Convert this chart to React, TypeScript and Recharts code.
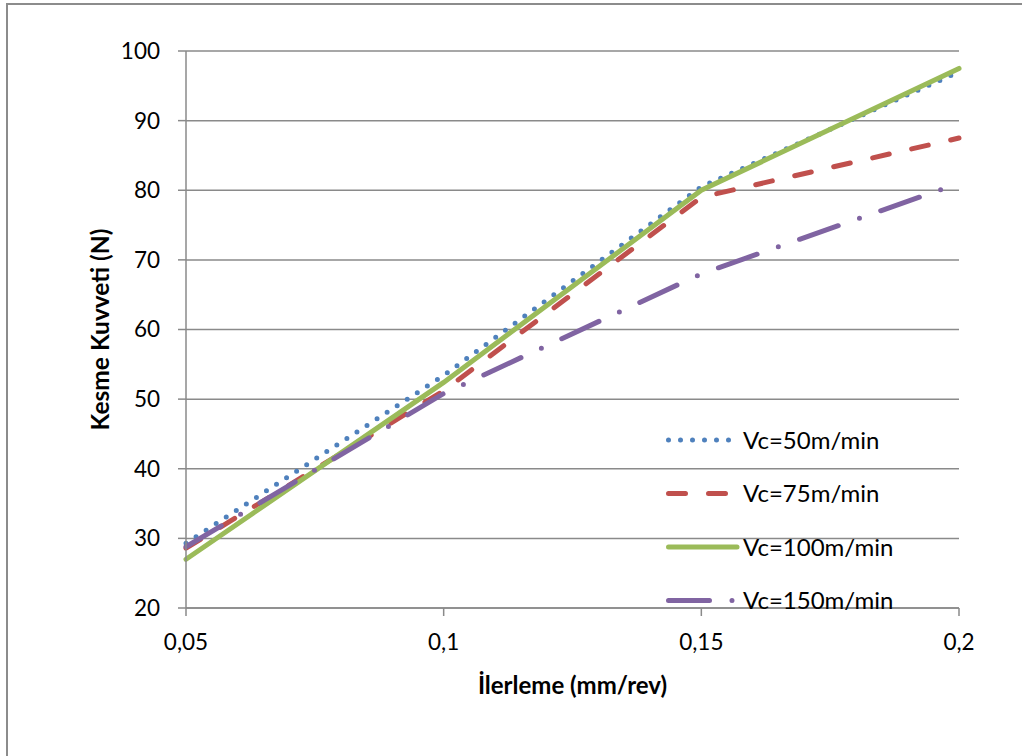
import React from 'react';
import { LineChart, Line, XAxis, YAxis, CartesianGrid, Legend } from 'recharts';

// feed rate (mm/rev) and cutting force (N) per cutting speed
const feed = [0.05, 0.1, 0.15, 0.2];
const vc50 = [29.3, 53.4, 80.5, 97];
const vc75 = [28.6, 51.2, 79, 87.5];
const vc100 = [27, 52.4, 80, 97.5];
const vc150 = [28.8, 50.8, 68, 81];

const xTicks = [0.05, 0.1, 0.15, 0.2];
const yTicks = [20, 30, 40, 50, 60, 70, 80, 90, 100];

const seriesNames = ['Vc=50m/min', 'Vc=75m/min', 'Vc=100m/min', 'Vc=150m/min'];

const data = feed.map((f, i) => ({
    feed: f,
    vc50: vc50[i],
    vc75: vc75[i],
    vc100: vc100[i],
    vc150: vc150[i],
}));

const series = [
    { key: 'vc50', name: seriesNames[0], color: '#4F81BD', dash: '0 12' },
    { key: 'vc75', name: seriesNames[1], color: '#C0504D', dash: '17 23' },
    { key: 'vc100', name: seriesNames[2], color: '#9BBB59', dash: undefined },
    { key: 'vc150', name: seriesNames[3], color: '#8064A2', dash: '41 22.5 0 22.5' },
];

const FONT = 'Lato, "Open Sans", sans-serif';
const GRID = '#8a8a8a';

const LegendBox = () => (
    <svg width={300} height={220} style={{ display: 'block', overflow: 'visible' }}>
        {series.map((s, i) => {
            const y = 20 + i * 53.5;
            const x2 = s.key === 'vc100' ? 87 : s.key === 'vc150' ? 83 : 81;
            return (
                <g key={s.key}>
                    <line
                        x1={18.5}
                        y1={y}
                        x2={x2}
                        y2={y}
                        stroke={s.color}
                        strokeWidth={5}
                        strokeLinecap="round"
                        strokeDasharray={s.dash}
                    />
                    <text x={93} y={y} dy="0.36em" fontSize={24} fontFamily={FONT} fill="#000">
                        {s.name}
                    </text>
                </g>
            );
        })}
    </svg>
);

export default function App() {
    return (
        <div style={{ position: 'fixed', left: 0, top: 0, width: 1022, height: 756, overflow: 'hidden', background: '#fff' }}>
            <div
                style={{
                    position: 'absolute',
                    left: 6,
                    top: 3,
                    width: 1060,
                    height: 800,
                    border: '2px solid #8c8c8c',
                    boxSizing: 'border-box',
                }}
            />
            <div style={{ position: 'absolute', left: 0, top: 0 }}>
                <LineChart width={1022} height={770} data={data} margin={{ top: 51, right: 63, left: 14, bottom: 8 }}>
                    <CartesianGrid vertical={false} stroke={GRID} strokeWidth={1.5} />
                    <XAxis
                        dataKey="feed"
                        type="number"
                        domain={[0.05, 0.2]}
                        ticks={xTicks}
                        height={154}
                        tickSize={8}
                        tickMargin={18}
                        axisLine={{ stroke: GRID, strokeWidth: 1.5 }}
                        tickLine={{ stroke: GRID, strokeWidth: 1.5 }}
                        tick={{ fill: '#000', fontSize: 22.5, fontFamily: FONT }}
                        tickFormatter={(v: number) => String(v).replace('.', ',')}
                        label={{
                            value: 'İlerleme (mm/rev)',
                            position: 'center',
                            fill: '#000',
                            fontSize: 24,
                            fontWeight: 700,
                            fontFamily: FONT,
                        }}
                    />
                    <YAxis
                        type="number"
                        domain={[20, 100]}
                        ticks={yTicks}
                        width={172}
                        tickSize={8}
                        tickMargin={18}
                        axisLine={{ stroke: GRID, strokeWidth: 1.5 }}
                        tickLine={{ stroke: GRID, strokeWidth: 1.5 }}
                        tick={{ fill: '#000', fontSize: 22.5, fontFamily: FONT }}
                        label={{
                            value: 'Kesme Kuvveti (N)',
                            angle: -90,
                            position: 'center',
                            fill: '#000',
                            fontSize: 24.5,
                            fontWeight: 700,
                            fontFamily: FONT,
                        }}
                    />
                    {series.map((s) => (
                        <Line
                            key={s.key}
                            type="linear"
                            dataKey={s.key}
                            name={s.name}
                            stroke={s.color}
                            strokeWidth={5}
                            strokeDasharray={s.dash}
                            strokeLinecap="round"
                            dot={false}
                            activeDot={false}
                            isAnimationActive={false}
                        />
                    ))}
                    <Legend
                        layout="vertical"
                        align="center"
                        verticalAlign="middle"
                        wrapperStyle={{ position: 'absolute', left: 650, top: 420, width: 300, height: 220 }}
                        content={() => <LegendBox />}
                    />
                </LineChart>
            </div>
        </div>
    );
}
